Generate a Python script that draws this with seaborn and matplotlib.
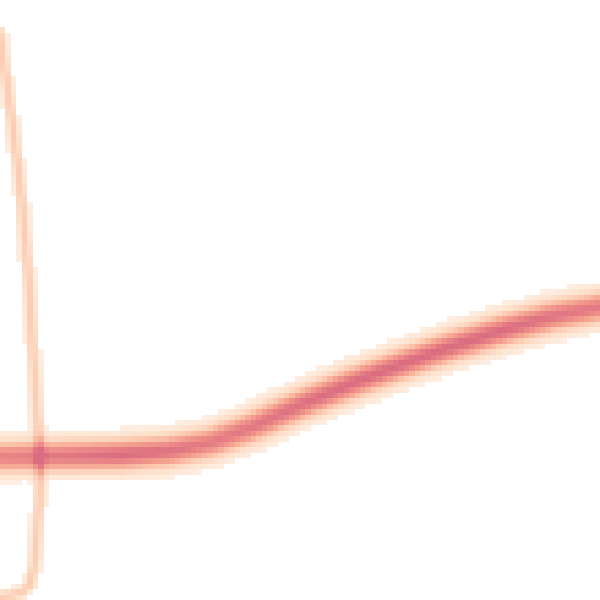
import numpy as np
import pandas as pd
import matplotlib
matplotlib.use("Agg")
import matplotlib.pyplot as plt
import seaborn as sns

# Thick band centerline (image coords, px) and its peak intensity
band_x = [0, 60, 120, 170, 210, 250, 300, 350, 400, 450, 500, 550, 600]
band_y = [457, 456, 455, 451, 443, 428, 405, 384, 365, 347, 331, 317, 307]
band_peak = [0.85, 0.92, 1.0, 0.95, 0.9, 0.92, 0.97, 1.0, 1.0, 1.0, 1.0, 0.95, 0.9]

# Thin arc (image coords, px) and its intensity
thin_x = [0, 5, 12, 22, 30, 36, 40, 39, 35, 30, 20, 0]
thin_y = [33, 70, 120, 200, 300, 400, 455, 500, 560, 585, 593, 597]
thin_peak = 0.36

# Colour ramp
ramp = ["#FFF1E6", "#FDE0CB", "#FCC7AE", "#F6A692", "#EC8B88", "#DA6D80"]

n_cells = 110
size = 600.0


def seg_dist(px, py, xs, ys, vals=None):
    xs = np.asarray(xs, float)
    ys = np.asarray(ys, float)
    best = np.full(px.shape, np.inf)
    bestv = np.zeros(px.shape)
    for k in range(len(xs) - 1):
        ax, ay, bx, by = xs[k], ys[k], xs[k + 1], ys[k + 1]
        dx, dy = bx - ax, by - ay
        t = ((px - ax) * dx + (py - ay) * dy) / (dx * dx + dy * dy)
        t = np.clip(t, 0, 1)
        cx, cy = ax + t * dx, ay + t * dy
        d = np.hypot(px - cx, py - cy)
        if vals is not None:
            v = vals[k] + t * (vals[k + 1] - vals[k])
        else:
            v = np.ones(px.shape)
        m = d < best
        best = np.where(m, d, best)
        bestv = np.where(m, v, bestv)
    return best, bestv


c = (np.arange(n_cells) + 0.5) * size / n_cells
PX, PY = np.meshgrid(c, c)

d_band, v_band = seg_dist(PX, PY, band_x, band_y, band_peak)
d_thin, _ = seg_dist(PX, PY, thin_x, thin_y)

grid = v_band * np.exp(-0.5 * (d_band / 10.5) ** 2) + thin_peak * np.exp(-0.5 * (d_thin / 3.8) ** 2)
df = pd.DataFrame(grid)
mask = df < 0.04

cmap = sns.blend_palette(ramp, as_cmap=True)

fig = plt.figure(figsize=(6, 6), dpi=100)
ax = fig.add_axes([0, 0, 1, 1])
sns.heatmap(df, mask=mask, cmap=cmap, vmin=0, vmax=1.0, cbar=False,
            xticklabels=False, yticklabels=False, ax=ax, rasterized=True)
ax.set_axis_off()
fig.savefig("out.png", dpi=100, facecolor="white")
